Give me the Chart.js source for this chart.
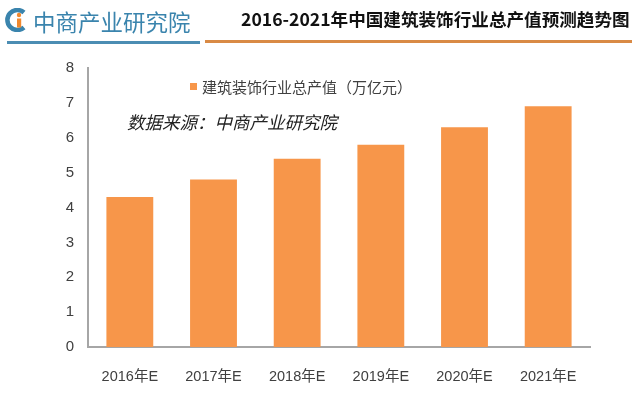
<!DOCTYPE html>
<html>
<head>
<meta charset="utf-8">
<script src="https://cdn.jsdelivr.net/npm/chart.js@4"></script>
<style>
html,body{margin:0;padding:0;background:#fff;}
#wrap{position:relative;width:640px;height:396px;overflow:hidden;}
#c{position:absolute;left:0;top:0;}
.logo{position:absolute;left:5px;top:8px;}
.logotxt{position:absolute;left:33px;top:5px;font:22.5px "Noto Sans CJK SC";color:#3a84ad;white-space:nowrap;}
.title{position:absolute;left:241px;top:6px;font:bold 17.6px "Noto Sans CJK SC";color:#111;white-space:nowrap;}
.line1{position:absolute;left:7px;top:41px;width:193px;height:3px;background:#4b8db3;}
.line2{position:absolute;left:205px;top:40px;width:427px;height:3px;background:#d98a45;}
.src{position:absolute;left:127px;top:109px;font:italic 17.5px "Noto Sans CJK SC";color:#222;white-space:nowrap;}
</style>
</head>
<body>
<div id="wrap">
<canvas id="c" width="640" height="396"></canvas>
<svg class="logo" width="24" height="24" viewBox="0 0 24 24">
  <path d="M19 4.5 A10 10 0 1 0 19 19.5" fill="none" stroke="#3a84ad" stroke-width="4.5"/>
  <circle cx="14" cy="7" r="2.2" fill="#f0882e"/>
  <rect x="12" y="10.5" width="4.2" height="9" fill="#f0882e"/>
</svg>
<div class="logotxt">中商产业研究院</div>
<div class="title">2016-2021年中国建筑装饰行业总产值预测趋势图</div>
<div class="line1"></div>
<div class="line2"></div>
<div class="src">数据来源：中商产业研究院</div>
</div>
<script>
var years = ["2016年E","2017年E","2018年E","2019年E","2020年E","2021年E"];
var outputValues = [4.3, 4.8, 5.4, 5.8, 6.3, 6.9];
var seriesName = "建筑装饰行业总产值（万亿元）";
var yTicks = [0,1,2,3,4,5,6,7,8];

var barColor = "#f7964a";
var axisColor = "#a6a6a6";
var tickFont = "Liberation Sans, Noto Sans CJK SC";

// legend drawn inside the plot, top middle
var legendPlugin = {
	id: "innerLegend",
	afterDraw: function(chart){
		var ctx = chart.ctx;
		var ds = chart.data.datasets[0];
		ctx.save();
		ctx.fillStyle = ds.backgroundColor;
		ctx.fillRect(190, 83, 7, 7);
		ctx.fillStyle = "#404040";
		ctx.font = "15px Noto Sans CJK SC";
		ctx.textBaseline = "middle";
		ctx.fillText(ds.label, 202, 87);
		ctx.restore();
	}
};

var chart = new Chart(document.getElementById("c").getContext("2d"),{
	type:"bar",
	data:{
		labels:years,
		datasets:[{
			label:seriesName,
			data:outputValues,
			backgroundColor:barColor,
			barPercentage:0.56,
			categoryPercentage:1
		}]
	},
	options:{
		responsive:false,
		animation:false,
		layout:{padding:{left:0,right:50,top:68,bottom:0}},
		plugins:{
			legend:{display:false},
			tooltip:{enabled:false}
		},
		scales:{
			x:{
				grid:{display:false, drawTicks:false},
				border:{color:axisColor, width:2},
				ticks:{color:"#404040", font:{family:tickFont, size:14.5}, padding:21},
				afterFit:function(s){ s.height = 49; }
			},
			y:{
				min:0,
				max:8,
				afterBuildTicks:function(s){ s.ticks = yTicks.map(function(v){ return {value:v}; }); },
				grid:{display:false, drawTicks:false},
				border:{color:axisColor, width:2},
				ticks:{color:"#404040", font:{family:tickFont, size:15}, padding:14},
				afterFit:function(s){ s.width = 88; }
			}
		}
	},
	plugins:[legendPlugin]
});
</script>
</body>
</html>
